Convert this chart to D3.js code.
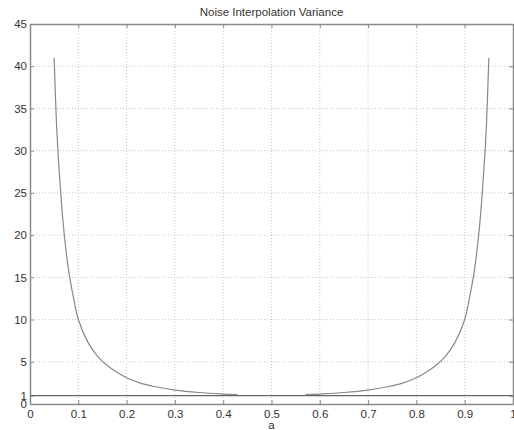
<!DOCTYPE html>
<html><head><meta charset="utf-8">
<script src="https://cdn.jsdelivr.net/npm/d3@7"></script>
<style>body{margin:0;background:#fff}svg{display:block}text{font-family:"Liberation Sans",Arial,sans-serif}</style>
</head><body>
<script>
const title = "Noise Interpolation Variance";
const xLabel = "a";
const xTicks = [0,0.1,0.2,0.3,0.4,0.5,0.6,0.7,0.8,0.9,1];
const yTicks = [0,1,5,10,15,20,25,30,35,40,45];
const leftA = [0.05,0.055,0.06,0.07,0.08,0.09,0.1,0.12,0.14,0.16,0.18,0.2,0.23,0.26,0.3,0.35,0.4,0.43];
const leftV = [41,33,28,20.6,15.8,12.6,10,7.3,5.65,4.55,3.75,3.1,2.45,2.04,1.65,1.36,1.18,1.1];
const rightA = [0.57,0.6,0.65,0.7,0.74,0.77,0.8,0.82,0.84,0.86,0.88,0.9,0.91,0.92,0.93,0.94,0.945,0.95];
const rightV = [1.1,1.18,1.36,1.65,2.04,2.45,3.1,3.75,4.55,5.65,7.3,10,12.6,15.8,20.6,28,33,41];
const refLine = [[0,1],[1,1]];

const W=514,H=430, m={l:30,r:1,t:24,b:26};
const FS="11.5px";
const svg=d3.select("body").append("svg").attr("width",W).attr("height",H);
const x=d3.scaleLinear().domain([0,1]).range([m.l,W-m.r]);
const y=d3.scaleLinear().domain([0,45]).range([H-m.b,m.t]);
const gridCol="#c8c8c8", frameCol="#8a8a8a", txtCol="#333";

// grid
svg.append("g").selectAll("line").data(xTicks.slice(1,-1)).join("line")
  .attr("x1",d=>x(d)).attr("x2",d=>x(d)).attr("y1",y(0)).attr("y2",y(45))
  .attr("stroke",gridCol).attr("stroke-dasharray","1,2");
svg.append("g").selectAll("line").data(yTicks.filter(d=>d>1&&d<45)).join("line")
  .attr("y1",d=>y(d)).attr("y2",d=>y(d)).attr("x1",x(0)).attr("x2",x(1))
  .attr("stroke",gridCol).attr("stroke-dasharray","1,2");

// axes with inner ticks
const ax=[
 [d3.axisBottom(x).tickValues(xTicks).tickFormat(d3.format("")).tickSizeInner(-4).tickSizeOuter(0).tickPadding(6), `translate(0,${y(0)})`, true],
 [d3.axisTop(x).tickValues(xTicks).tickSizeInner(-4).tickSizeOuter(0), `translate(0,${y(45)})`, false],
 [d3.axisLeft(y).tickValues(yTicks).tickSizeInner(-4).tickSizeOuter(0).tickPadding(3), `translate(${x(0)},0)`, true],
 [d3.axisRight(y).tickValues(yTicks).tickSizeInner(-4).tickSizeOuter(0), `translate(${x(1)},0)`, false]
];
ax.forEach(([a,t,lab])=>{
  const g=svg.append("g").attr("transform",t).call(a);
  g.select(".domain").attr("stroke",frameCol).attr("stroke-width",1.5);
  g.selectAll(".tick line").attr("stroke",frameCol);
  g.selectAll("text").attr("fill",txtCol).style("font-size",FS).style("font-family","'Liberation Sans',Arial,sans-serif");
  if(!lab) g.selectAll("text").remove();
});

// data
const line=d3.line().x(d=>x(d[0])).y(d=>y(d[1]));
svg.append("path").datum(refLine).attr("d",line).attr("fill","none").attr("stroke","#666").attr("stroke-width",1.2);
const smooth=d3.line().x(d=>x(d[0])).y(d=>y(d[1])).curve(d3.curveCatmullRom.alpha(0.5));
svg.append("path").datum(leftA.map((a,i)=>[a,leftV[i]])).attr("d",smooth).attr("fill","none").attr("stroke","#888").attr("stroke-width",1.2);
svg.append("path").datum(rightA.map((a,i)=>[a,rightV[i]])).attr("d",smooth).attr("fill","none").attr("stroke","#888").attr("stroke-width",1.2);

svg.append("text").attr("x",(x(0)+x(1))/2).attr("y",16).attr("text-anchor","middle")
  .attr("fill",txtCol).style("font-size",FS).text(title);
svg.append("text").attr("x",(x(0)+x(1))/2).attr("y",429).attr("text-anchor","middle")
  .attr("fill",txtCol).style("font-size",FS).text(xLabel);
</script>
</body></html>
